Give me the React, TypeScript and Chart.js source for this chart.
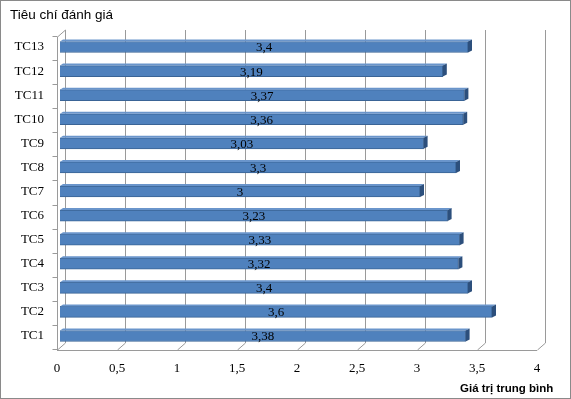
import React, { useEffect, useRef } from "react";
import { Chart, registerables } from "chart.js";

Chart.register(...registerables);

const categories = ["TC1", "TC2", "TC3", "TC4", "TC5", "TC6", "TC7", "TC8", "TC9", "TC10", "TC11", "TC12", "TC13"];
const values = [3.38, 3.6, 3.4, 3.32, 3.33, 3.23, 3, 3.3, 3.03, 3.36, 3.37, 3.19, 3.4];
const xTickValues = [0, 0.5, 1, 1.5, 2, 2.5, 3, 3.5, 4];
const yTitle = "Tiêu chí đánh giá";
const xTitle = "Giá trị trung bình";

const fmt = (v: number) => String(v).replace(".", ",");

const DX = 8;
const DY = 7;
const FLOOR = 3;
const SHIFT_X = 3;
const SHIFT_Y = 1;

const decor = {
  id: "decor",
  beforeDraw(chart: any) {
    const { ctx, width, height } = chart;
    ctx.save();
    ctx.fillStyle = "#ffffff";
    ctx.fillRect(0, 0, width, height);
    ctx.strokeStyle = "#8a8a8a";
    ctx.lineWidth = 1;
    ctx.strokeRect(0.5, 0.5, width - 1, height - 1);
    ctx.restore();
  },
  beforeDatasetsDraw(chart: any) {
    const { ctx, chartArea } = chart;
    const xs = chart.scales.x;
    const ys = chart.scales.y;
    const { left, right, top } = chartArea;
    const bottom = chartArea.bottom + FLOOR;
    ctx.save();
    ctx.strokeStyle = "#9a9a9a";
    ctx.lineWidth = 1;
    xTickValues.forEach((v) => {
      const x = Math.round(xs.getPixelForValue(v)) + 0.5;
      ctx.beginPath();
      ctx.moveTo(x + DX, bottom - DY);
      ctx.lineTo(x + DX, top - 4);
      ctx.stroke();
      ctx.beginPath();
      ctx.moveTo(x, bottom);
      ctx.lineTo(x + DX, bottom - DY);
      ctx.stroke();
    });
    ctx.beginPath();
    ctx.moveTo(left, bottom + 0.5);
    ctx.lineTo(right, bottom + 0.5);
    ctx.stroke();
    const lx = Math.round(left) + 0.5;
    ctx.beginPath();
    ctx.moveTo(lx, bottom);
    ctx.lineTo(lx, top + 3);
    ctx.lineTo(lx + DX, top - 4);
    ctx.stroke();
    const n = categories.length;
    const step = ys.getPixelForValue(0) - ys.getPixelForValue(1);
    for (let i = 0; i <= n; i++) {
      const y = Math.round(ys.getPixelForValue(0) + step / 2 - i * step + 2) + 0.5;
      ctx.beginPath();
      ctx.moveTo(lx - 5, y);
      ctx.lineTo(lx, y);
      ctx.stroke();
    }
    ctx.restore();
    ctx.save();
    ctx.translate(SHIFT_X, SHIFT_Y);
  },
  afterDatasetsDraw(chart: any) {
    const { ctx } = chart;
    const meta = chart.getDatasetMeta(0);
    meta.data.forEach((el: any, i: number) => {
      const h = el.height;
      const t = el.y - h / 2;
      const b = el.y + h / 2;
      const x = el.x;
      const base = el.base;
      ctx.fillStyle = "#6a95cb";
      ctx.beginPath();
      ctx.moveTo(base, t);
      ctx.lineTo(base + 3, t - 2);
      ctx.lineTo(x + 4, t - 2);
      ctx.lineTo(x, t);
      ctx.closePath();
      ctx.fill();
      ctx.fillStyle = "#2c4f7c";
      ctx.beginPath();
      ctx.moveTo(x, t);
      ctx.lineTo(x + 4, t - 2);
      ctx.lineTo(x + 4, b - 2);
      ctx.lineTo(x, b);
      ctx.closePath();
      ctx.fill();
      ctx.fillStyle = "#000000";
      ctx.font = "13px 'Liberation Serif', 'Times New Roman', serif";
      ctx.textAlign = "center";
      ctx.textBaseline = "middle";
      ctx.fillText(fmt(values[i]), (base + x) / 2, el.y + 1);
    });
    ctx.restore();
    ctx.save();
    ctx.textAlign = "left";
    ctx.textBaseline = "alphabetic";
    ctx.font = "13.5px 'Liberation Sans', Arial, sans-serif";
    ctx.fillStyle = "#000000";
    ctx.fillText(yTitle, 10, 19);
    ctx.font = "bold 11.5px 'Liberation Sans', Arial, sans-serif";
    ctx.fillText(xTitle, 460, 392);
    ctx.restore();
  },
};

export default function App() {
  const ref = useRef<HTMLCanvasElement | null>(null);
  useEffect(() => {
    if (!ref.current) return;
    const chart = new Chart(ref.current, {
      type: "bar",
      data: {
        labels: categories,
        datasets: [
          {
            data: values,
            backgroundColor: "#4f81bd",
            borderColor: "#3a6496",
            borderWidth: 1,
            barThickness: 11,
          },
        ],
      },
      options: {
        indexAxis: "y",
        animation: false,
        responsive: false,
        maintainAspectRatio: false,
        layout: { padding: { top: 34, right: 34, left: 0, bottom: 0 } },
        plugins: {
          legend: { display: false },
          tooltip: { enabled: false },
          title: { display: false },
        },
        scales: {
          x: {
            type: "linear",
            min: 0,
            max: 4,
            afterBuildTicks: (scale: any) => {
              scale.ticks = xTickValues.map((v) => ({ value: v }));
            },
            afterFit: (scale: any) => {
              scale.height = 52;
            },
            grid: { display: false, drawTicks: false },
            border: { display: false },
            ticks: {
              padding: 14,
              color: "#000000",
              font: { family: "'Liberation Serif', 'Times New Roman', serif", size: 13 },
              callback: (v: any) => fmt(Number(v)),
              maxRotation: 0,
            },
          },
          y: {
            reverse: true,
            afterFit: (scale: any) => {
              scale.width = 57;
            },
            grid: { display: false, drawTicks: false },
            border: { display: false },
            ticks: {
              padding: 13,
              labelOffset: 1,
              color: "#000000",
              font: { family: "'Liberation Serif', 'Times New Roman', serif", size: 13 },
            },
          },
        },
      },
      plugins: [decor],
    });
    return () => chart.destroy();
  }, []);
  return (
    <div style={{ position: "absolute", left: 0, top: 0, width: 571, height: 399 }}>
      <canvas ref={ref} width={571} height={399} style={{ display: "block" }} />
    </div>
  );
}
